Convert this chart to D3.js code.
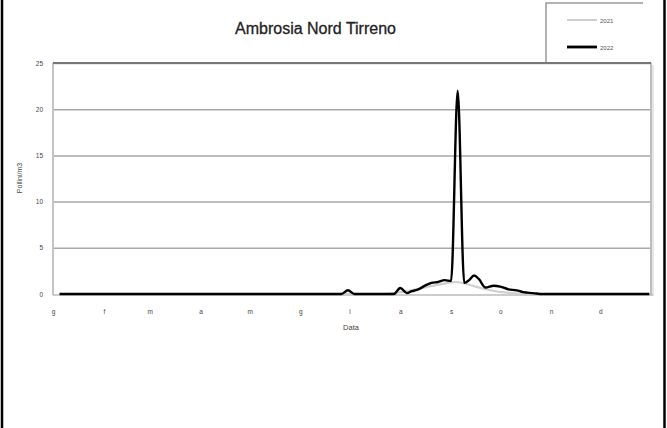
<!DOCTYPE html>
<html>
<head>
<meta charset="utf-8">
<script src="https://cdn.jsdelivr.net/npm/d3@7"></script>
<style>
  html, body { margin: 0; padding: 0; background: #fff; }
  svg { display: block; font-family: "Liberation Sans", Arial, sans-serif; }
</style>
</head>
<body>
<svg id="chart" width="667" height="428"></svg>
<script>
// Season dates (month-day) and daily pollen concentrations
const dates2022 = ["01-05","06-26","06-30","07-04","07-28","08-01","08-05","08-08","08-12","08-16","08-20","08-24","08-28","09-01","09-05","09-09","09-12","09-15","09-18","09-22","09-27","10-01","10-06","10-11","10-15","10-21","10-27","12-31"];
const values2022 = [0,0,0.4,0,0,0.65,0.1,0.3,0.5,0.9,1.2,1.3,1.5,1.4,22,1.2,1.5,2.0,1.6,0.7,0.9,0.8,0.5,0.4,0.2,0.1,0,0];

const dates2021 = ["01-05","07-20","07-30","08-08","08-18","08-27","09-04","09-12","09-20","09-28","10-08","10-20","12-31"];
const values2021 = [0,0,0.15,0.4,0.8,1.1,1.3,1.0,0.6,0.3,0.1,0,0];

const monthLabels = ["g","f","m","a","m","g","l","a","s","o","n","d"];
const yTicks = [0,5,10,15,20,25];
const seriesNames = ["2021","2022"];

const svg = d3.select("#chart");
const W = 667, H = 428;

// outer frame: side rules only
svg.append("line").attr("x1",2).attr("x2",2).attr("y1",0).attr("y2",H)
  .attr("stroke","#000").attr("stroke-width",2.5);
svg.append("line").attr("x1",664.5).attr("x2",664.5).attr("y1",0).attr("y2",H)
  .attr("stroke","#000").attr("stroke-width",2.5);

const plotL = 53, plotR = 651, plotT = 63, plotB = 294;
const parse = s => d3.timeParse("%Y-%m-%d")("2022-" + s);

const x = d3.scaleTime()
  .domain([new Date(2022,0,1), new Date(2023,0,1)])
  .range([plotL, plotR]);
const y = d3.scaleLinear().domain([0,25]).range([plotB, plotT]);

// gridlines
svg.append("g")
  .attr("transform", `translate(${plotL},0)`)
  .call(d3.axisLeft(y).tickValues(yTicks.slice(1)).tickSize(-(plotR-plotL)).tickFormat(""))
  .call(g => g.select(".domain").remove())
  .call(g => g.selectAll(".tick line").attr("stroke","#a8a8a8").attr("stroke-width",1.5));

// plot frame
svg.append("line").attr("x1",plotL).attr("x2",plotL).attr("y1",plotT).attr("y2",plotB+1)
  .attr("stroke","#c4c4c4").attr("stroke-width",2);
svg.append("line").attr("x1",plotR).attr("x2",plotR).attr("y1",plotT).attr("y2",plotB+1)
  .attr("stroke","#bdbdbd").attr("stroke-width",2);
svg.append("line").attr("x1",plotR+2).attr("x2",plotR+2).attr("y1",plotT+2).attr("y2",plotB+2)
  .attr("stroke","#e6e6e6").attr("stroke-width",2);
svg.append("line").attr("x1",plotL).attr("x2",plotR).attr("y1",plotT).attr("y2",plotT)
  .attr("stroke","#777").attr("stroke-width",2);
svg.append("line").attr("x1",plotL).attr("x2",plotR+2).attr("y1",plotB+1).attr("y2",plotB+1)
  .attr("stroke","#bbb").attr("stroke-width",1.5);

// axis labels
svg.append("g")
  .attr("transform", `translate(${plotL},0)`)
  .call(d3.axisLeft(y).tickValues(yTicks).tickSize(0).tickPadding(10))
  .call(g => g.select(".domain").remove())
  .call(g => g.selectAll("text").attr("font-size",6.5).attr("fill","#444").attr("font-family","Liberation Sans, Arial"));

svg.append("g")
  .attr("transform", `translate(0,${plotB+12})`)
  .call(d3.axisBottom(x)
    .tickValues(d3.range(12).map(m => new Date(2022,m,1)))
    .tickSize(0)
    .tickFormat((d,i) => monthLabels[i]))
  .call(g => g.select(".domain").remove())
  .call(g => g.selectAll("text").attr("font-size",6.5).attr("fill","#444").attr("font-family","Liberation Sans, Arial"));

svg.append("text").attr("x",351).attr("y",330).attr("text-anchor","middle")
  .attr("font-size",7.5).attr("fill","#444").text("Data");

svg.append("text").attr("transform","translate(22,178) rotate(-90)")
  .attr("text-anchor","middle").attr("font-size",7).attr("fill","#444").text("Pollini/m3");

// title
svg.append("text").attr("x",315.5).attr("y",34).attr("text-anchor","middle")
  .attr("font-size",16).attr("fill","#222").attr("stroke","#222").attr("stroke-width",0.3)
  .text("Ambrosia Nord Tirreno");

// series
const line = d3.line().x(d => x(d.date)).y(d => y(d.v)).curve(d3.curveMonotoneX);
const s2021 = dates2021.map((d,i) => ({date: parse(d), v: values2021[i]}));
const s2022 = dates2022.map((d,i) => ({date: parse(d), v: values2022[i]}));

svg.append("path").datum(s2021).attr("d", line)
  .attr("fill","none").attr("stroke","#cfcfcf").attr("stroke-width",2.2);
svg.append("path").datum(s2022).attr("d", line)
  .attr("fill","none").attr("stroke","#000").attr("stroke-width",2.4)
  .attr("stroke-linejoin","round");

// legend
const lg = svg.append("g");
lg.append("path").attr("d","M546,62 V3 H643")
  .attr("fill","none").attr("stroke","#999").attr("stroke-width",1.5);
const legendY = [20, 47];
const legendStroke = ["#cfcfcf", "#000"];
seriesNames.forEach((name,i) => {
  lg.append("line").attr("x1",567).attr("x2",597).attr("y1",legendY[i]).attr("y2",legendY[i])
    .attr("stroke",legendStroke[i]).attr("stroke-width", i ? 2.8 : 2);
  lg.append("text").attr("x",600).attr("y",legendY[i]+2.5).attr("font-size",6).attr("fill","#555").text(name);
});
</script>
</body>
</html>
